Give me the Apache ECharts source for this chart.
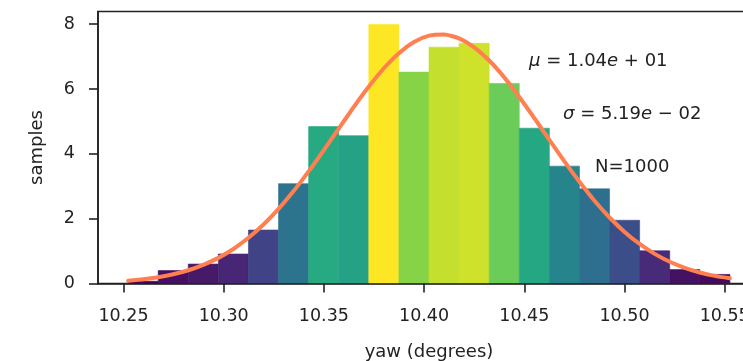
<!DOCTYPE html>
<html>
<head>
<meta charset="utf-8">
<script src="https://cdn.jsdelivr.net/npm/echarts@6/dist/echarts.min.js"></script>
<style>
  html, body { margin: 0; padding: 0; background: #fff; }
  #chart { width: 743px; height: 361px; }
</style>
</head>
<body>
<div id="chart"></div>
<script>
// Histogram of yaw readings (density-normalised) with a fitted normal curve.
const binLow = 10.2523;
const binHigh = 10.5526;
const binHeights = [0.07, 0.40, 0.60, 0.91, 1.65, 3.08, 4.84, 4.56, 7.99, 6.52,
                    7.29, 7.41, 6.17, 4.79, 3.62, 2.92, 1.95, 1.01, 0.43, 0.28];
// fitted pdf, sampled every half bin from binLow to binHigh
const fitValues = [0.085, 0.130, 0.195, 0.285, 0.409, 0.575, 0.790, 1.065, 1.409, 1.820,
                   2.302, 2.851, 3.458, 4.108, 4.779, 5.445, 6.075, 6.639, 7.105, 7.446,
                   7.644, 7.681, 7.559, 7.286, 6.877, 6.357, 5.754, 5.102, 4.429, 3.766,
                   3.136, 2.551, 2.036, 1.592, 1.219, 0.914, 0.671, 0.483, 0.340, 0.235, 0.159];
const xTicks = [10.25, 10.30, 10.35, 10.40, 10.45, 10.50, 10.55];
const yTicks = [0, 2, 4, 6, 8];
const statsLines = ['{i|μ} = 1.04{i|e} + 01', '{i|σ} = 5.19{i|e} − 02', 'N=1000'];

const viridis = ['#440154', '#472d7b', '#3b528b', '#2c728e', '#21918c',
                 '#28ae80', '#5ec962', '#addc30', '#fde725'];

const nBins = binHeights.length;
const binWidth = (binHigh - binLow) / nBins;
const edges = [];
for (let k = 0; k <= nBins; k++) edges.push(binLow + k * binWidth);

const barData = binHeights.map((h, k) => [edges[k], edges[k + 1], h]);
const fitStep = (binHigh - binLow) / (fitValues.length - 1);
const curveData = fitValues.map((v, k) => [binLow + k * fitStep, v]);

const span = binHigh - binLow;
const xMin = binLow - span * 0.05;
const xMax = binHigh + span * 0.05;
const yMax = Math.max(...binHeights) * 1.05;

const FONT = '"DejaVu Sans", sans-serif';
const INK = '#222222';

const chart = echarts.init(document.getElementById('chart'), null, { renderer: 'canvas' });

const statsPos = [[529, 61], [563, 114], [595, 167]];

chart.setOption({
  animation: false,
  backgroundColor: '#ffffff',
  grid: {
    left: 98, top: 11.5, right: -17, bottom: 77.5,
    containLabel: false,
    outerBoundsMode: 'none',
    show: true, borderColor: INK, borderWidth: 1.6, backgroundColor: 'transparent'
  },
  visualMap: {
    show: false,
    type: 'continuous',
    seriesIndex: 0,
    dimension: 2,
    min: Math.min(...binHeights),
    max: Math.max(...binHeights),
    inRange: { color: viridis }
  },
  xAxis: {
    type: 'value',
    min: xMin, max: xMax,
    z: 10,
    name: 'yaw (degrees)',
    nameLocation: 'middle',
    nameGap: 60,
    nameTextStyle: { fontFamily: FONT, fontSize: 18, color: INK },
    axisLine: { show: true, onZero: false, lineStyle: { color: INK, width: 1.6 } },
    axisTick: { show: true, length: 9, lineStyle: { color: INK, width: 1.6 }, customValues: xTicks },
    axisLabel: {
      customValues: xTicks, margin: 24,
      fontFamily: FONT, fontSize: 17.5, color: INK,
      formatter: v => v.toFixed(2)
    },
    splitLine: { show: false }
  },
  yAxis: {
    type: 'value',
    min: 0, max: yMax,
    z: 10,
    name: 'samples',
    nameLocation: 'middle',
    nameGap: 52,
    nameRotate: 90,
    nameTextStyle: { fontFamily: FONT, fontSize: 18, color: INK },
    axisLine: { show: true, lineStyle: { color: INK, width: 1.6 } },
    axisTick: { show: true, length: 9, lineStyle: { color: INK, width: 1.6 }, customValues: yTicks },
    axisLabel: {
      customValues: yTicks, margin: 23,
      fontFamily: FONT, fontSize: 17.5, color: INK
    },
    splitLine: { show: false }
  },
  series: [
    {
      type: 'custom',
      z: 2,
      data: barData,
      encode: { x: [0, 1], y: 2 },
      renderItem: function (params, api) {
        const p0 = api.coord([api.value(0), api.value(2)]);
        const p1 = api.coord([api.value(1), 0]);
        const color = api.visual('color');
        return {
          type: 'rect',
          shape: { x: p0[0], y: p0[1], width: p1[0] - p0[0], height: p1[1] - p0[1] },
          style: { fill: color, stroke: color, lineWidth: 0.6 }
        };
      }
    },
    {
      type: 'line',
      z: 5,
      data: curveData,
      smooth: 0.2,
      showSymbol: false,
      lineStyle: { color: '#ff7f50', width: 4, cap: 'round' }
    }
  ],
  graphic: statsLines.map((t, i) => ({
    type: 'text',
    x: statsPos[i][0],
    y: statsPos[i][1],
    z: 20,
    style: {
      text: t,
      fill: INK,
      font: '18px ' + FONT,
      verticalAlign: 'middle',
      align: 'left',
      rich: {
        i: { fontFamily: FONT, fontSize: 18, fontStyle: 'italic', fill: INK }
      }
    }
  }))
});
</script>
</body>
</html>
